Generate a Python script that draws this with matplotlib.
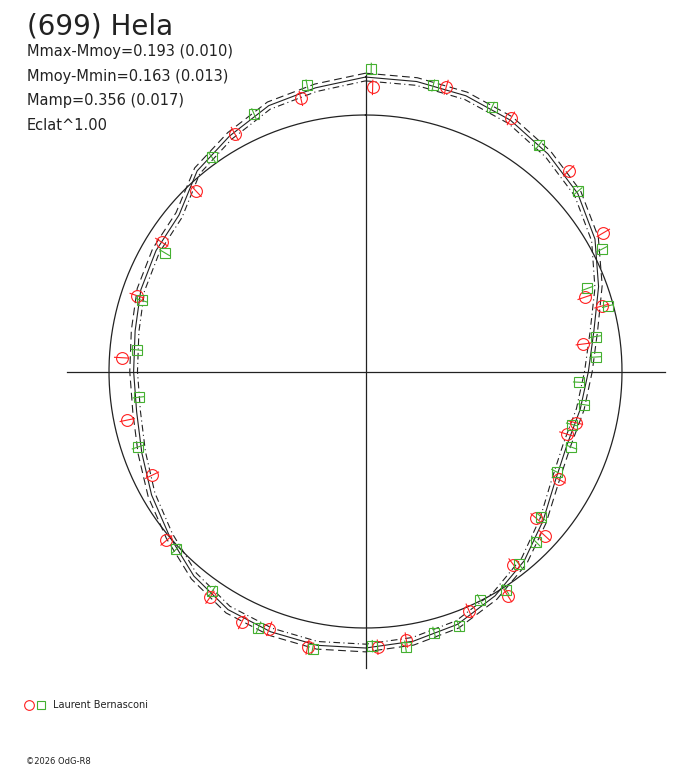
import numpy as np
import matplotlib
matplotlib.use("Agg")
import matplotlib.pyplot as plt

# rotation phase (0 at top, clockwise) and relative brightness (1 = mean circle)
red_phase = [0.004, 0.044, 0.083, 0.126, 0.166, 0.198, 0.207, 0.230, 0.288, 0.298, 0.331,
             0.363, 0.368, 0.396, 0.410, 0.435, 0.476, 0.493, 0.533, 0.557, 0.573, 0.596,
             0.638, 0.678, 0.718, 0.759, 0.801, 0.840, 0.880, 0.920, 0.963]
red_flux = [1.108, 1.152, 1.138, 1.113, 1.073, 0.903, 0.956, 0.856, 0.843, 0.821, 0.864,
            0.879, 0.947, 0.948, 1.035, 1.016, 1.059, 1.076, 1.098, 1.071, 1.090, 1.069,
            1.018, 0.925, 0.948, 0.952, 0.939, 0.941, 0.964, 1.058, 1.094]
green_phase = [0.003, 0.037, 0.071, 0.104, 0.138, 0.174, 0.193, 0.208, 0.226, 0.240, 0.258,
               0.274, 0.290, 0.306, 0.327, 0.360, 0.375, 0.393, 0.409, 0.426, 0.444, 0.459,
               0.477, 0.496, 0.530, 0.563, 0.597, 0.630, 0.699, 0.732, 0.765, 0.799, 0.835,
               0.901, 0.935, 0.968]
green_flux = [1.180, 1.146, 1.141, 1.112, 1.085, 1.037, 0.924, 0.979, 0.908, 0.899, 0.834,
              0.861, 0.831, 0.855, 0.842, 0.890, 0.941, 0.960, 1.011, 0.996, 1.056, 1.053,
              1.084, 1.071, 1.100, 1.082, 1.043, 1.013, 0.936, 0.890, 0.896, 0.915, 0.910,
              1.029, 1.094, 1.138]
red_err = 0.028
green_err = 0.022

# fitted curve, every 10 degrees of phase
fit_phase = np.arange(36) / 36
fit_flux = [1.148, 1.148, 1.144, 1.131, 1.107, 1.080, 1.033, 0.967, 0.904, 0.869, 0.850, 0.836,
            0.854, 0.904, 0.963, 1.010, 1.049, 1.068, 1.078, 1.084, 1.080, 1.072, 1.041, 0.998,
            0.963, 0.928, 0.906, 0.904, 0.912, 0.932, 0.943, 0.949, 1.021, 1.060, 1.103, 1.123]
fit_err = 0.015

stats = ["Mmax-Mmoy=0.193 (0.010)", "Mmoy-Mmin=0.163 (0.013)", "Mamp=0.356 (0.017)", "Eclat^1.00"]

RED = "#ff2020"
GREEN = "#44b030"
INK = "#222222"
FONT = "DejaVu Sans"

fig = plt.figure(figsize=(6.88, 7.68), dpi=100)
ax = fig.add_axes([0, 0, 1, 1])
# centre of the circle at pixel (365.5, 371.5), radius 256.5 px
ax.set_xlim(-365.5 / 256.5, 322.5 / 256.5)
ax.set_ylim(-396.5 / 256.5, 371.5 / 256.5)
ax.axis("off")


def xy(ph, r):
    th = np.radians(90 - 360 * np.asarray(ph))
    return np.asarray(r) * np.cos(th), np.asarray(r) * np.sin(th)


t = np.linspace(0, 1, 400)
ax.plot(*xy(t, np.ones_like(t)), color=INK, lw=0.9)
ax.plot([-1.165, 1.168], [0, 0], color=INK, lw=0.9)
ax.plot([0, 0], [-1.156, 1.156], color=INK, lw=0.9)

ph_c = np.append(fit_phase, 1.0)
fl_c = np.append(fit_flux, fit_flux[0])
ax.plot(*xy(ph_c, fl_c), color=INK, lw=0.8)
ax.plot(*xy(ph_c, fl_c + fit_err), color=INK, lw=0.8, ls=(0, (7, 4)))
ax.plot(*xy(ph_c, fl_c - fit_err), color=INK, lw=0.8, ls=(0, (6, 3, 1, 3)))

for p, f in zip(red_phase, red_flux):
    ax.plot(*xy([p, p], [f - red_err, f + red_err]), color=RED, lw=0.8)
for p, f in zip(green_phase, green_flux):
    ax.plot(*xy([p, p], [f - green_err, f + green_err]), color=GREEN, lw=0.8)
ax.plot(*xy(red_phase, red_flux), ls="none", marker="o", ms=8.5, mfc="none", mec=RED, mew=0.8)
ax.plot(*xy(green_phase, green_flux), ls="none", marker="s", ms=7, mfc="none", mec=GREEN, mew=0.8)

fig.text(27 / 688, 1 - 34 / 768, "(699) Hela", fontsize=20, family=FONT, color=INK)
for i, s in enumerate(stats):
    fig.text(27 / 688, 1 - (56 + 24.7 * i) / 768, s, fontsize=10.5, family=FONT, color=INK)

# observer legend
ax.plot([29 / 688], [1 - 705 / 768], transform=fig.transFigure, marker="o", ms=7,
        mfc="none", mec=RED, mew=0.8)
ax.plot([41 / 688], [1 - 705 / 768], transform=fig.transFigure, marker="s", ms=6,
        mfc="none", mec=GREEN, mew=0.8)
fig.text(53 / 688, 1 - 705 / 768, "Laurent Bernasconi", fontsize=7, family=FONT,
         color=INK, va="center")
fig.text(26 / 688, 1 - 762 / 768, "©2026 OdG-R8", fontsize=6, family=FONT,
         color=INK, va="center")

fig.savefig("out.png", dpi=100)
